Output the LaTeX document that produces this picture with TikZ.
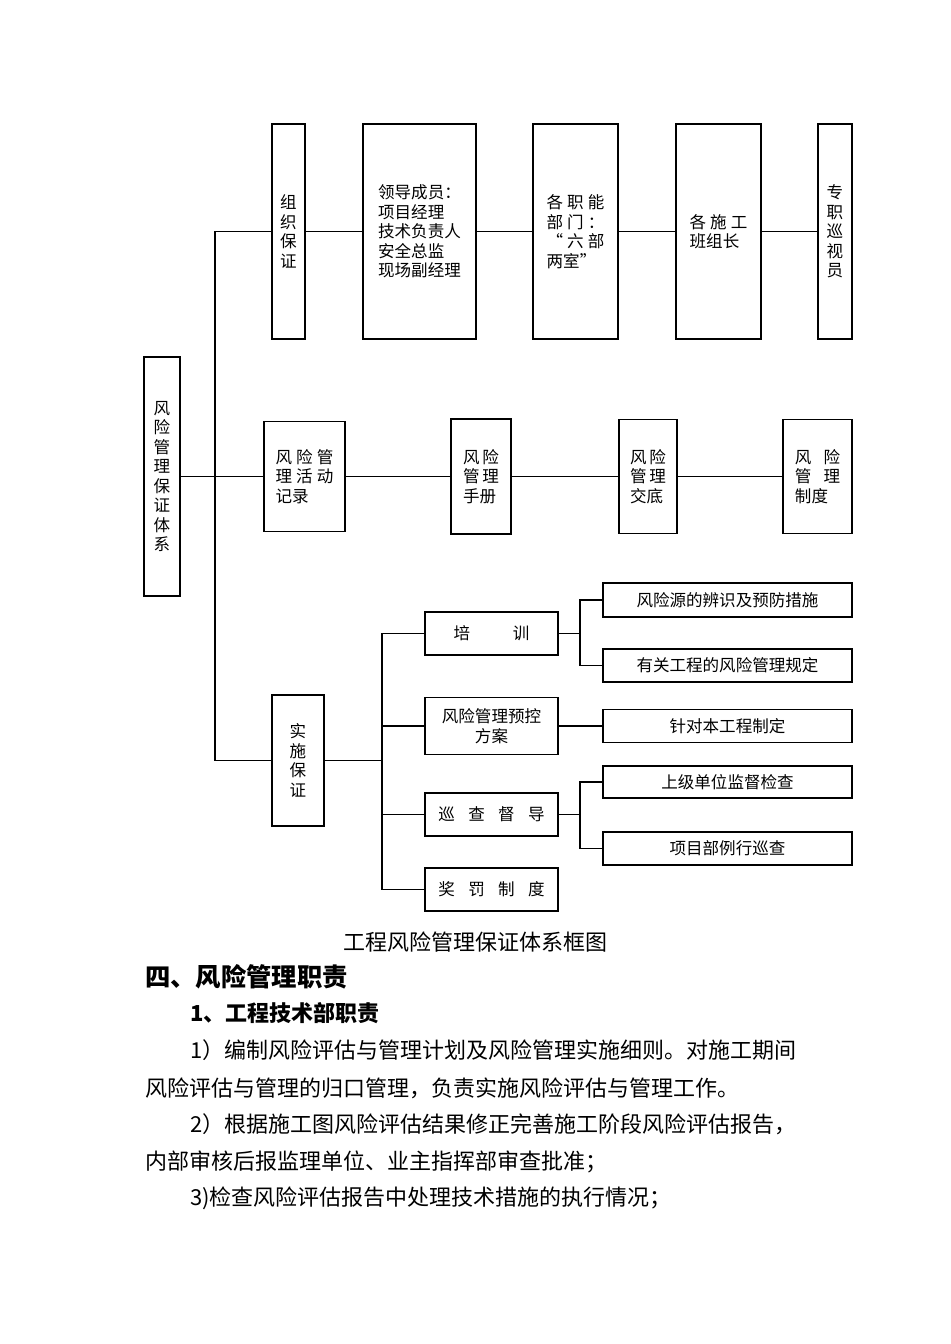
\documentclass[tikz,border=0pt]{standalone}
\usepackage{fontspec}
\setmainfont{Noto Sans CJK SC}
\usetikzlibrary{positioning}
\newcommand{\boxfont}{\fontsize{12.4}{14.6}\selectfont}
\newcommand{\parafont}{\fontsize{16.5}{20}\selectfont}
\newcommand{\headfont}{\fontsize{19}{22}\selectfont\bfseries}
\newcommand{\subheadfont}{\fontsize{16.5}{20}\selectfont\bfseries}

\begin{document}
\begin{tikzpicture}[
    x=0.75pt, y=-0.75pt,
    box/.style={draw, line width=0.8pt, inner sep=0pt, font=\boxfont, align=center},
    leftbox/.style={box, align=left},
    link/.style={line width=0.8pt},
    para/.style={anchor=base west, inner sep=0pt, font=\parafont},
    head/.style={anchor=base west, inner sep=0pt, font=\headfont},
    subhead/.style={anchor=base west, inner sep=0pt, font=\subheadfont}
]
\fill[white] (0,0) rectangle (950,1344);
\useasboundingbox (0,0) rectangle (950,1344);

% --- Nodo raíz ---
\node[box, minimum width=36*0.75pt, minimum height=239*0.75pt] (root) at (162,476.5)
    {风\\险\\管\\理\\保\\证\\体\\系};

% --- Fila superior ---
\node[box, minimum width=33*0.75pt, minimum height=215*0.75pt] (org) at (288.5,231.5) {组\\织\\保\\证};
\node[leftbox, minimum width=113*0.75pt, minimum height=215*0.75pt] (lead) at (419.5,231.5)
    {领导成员：\\项目经理\\技术负责人\\安全总监\\现场副经理};
\node[leftbox, minimum width=85*0.75pt, minimum height=215*0.75pt] (dept) at (575.5,231.5)
    {各\hspace{3pt}职\hspace{3pt}能\\部\hspace{3pt}门\hspace{3pt}：\\“\hspace{3pt}六\hspace{3pt}部\\两室”};
\node[leftbox, minimum width=85*0.75pt, minimum height=215*0.75pt] (team) at (718.5,231.5)
    {各\hspace{3pt}施\hspace{3pt}工\\班组长};
\node[box, minimum width=34*0.75pt, minimum height=215*0.75pt] (insp) at (835,231.5) {专\\职\\巡\\视\\员};

% --- Fila media ---
\node[leftbox, minimum width=81*0.75pt, minimum height=110*0.75pt] (rec) at (304.5,476.5)
    {风\hspace{3pt}险\hspace{3pt}管\\理\hspace{3pt}活\hspace{3pt}动\\记录};
\node[leftbox, minimum width=60*0.75pt, minimum height=115*0.75pt] (manual) at (481,476.5)
    {风\hspace{2pt}险\\管\hspace{2pt}理\\手册};
\node[leftbox, minimum width=58*0.75pt, minimum height=114*0.75pt] (brief) at (648,476.5)
    {风\hspace{2pt}险\\管\hspace{2pt}理\\交底};
\node[leftbox, minimum width=69*0.75pt, minimum height=114*0.75pt] (rules) at (817.5,476.5)
    {风\hspace{9pt}险\\管\hspace{9pt}理\\制度};

% --- Rama inferior ---
\node[box, minimum width=52*0.75pt, minimum height=131*0.75pt] (impl) at (298,760.5) {实\\施\\保\\证};
\node[box, minimum width=133*0.75pt, minimum height=43*0.75pt] (train) at (491.5,633.5) {培\hspace{32pt}训};
\node[box, minimum width=133*0.75pt, minimum height=57*0.75pt] (plan) at (491.5,726) {风险管理预控\\方案};
\node[box, minimum width=133*0.75pt, minimum height=43*0.75pt] (patrol) at (491.5,814.5)
    {巡\hspace{10pt}查\hspace{10pt}督\hspace{10pt}导};
\node[box, minimum width=133*0.75pt, minimum height=43*0.75pt] (reward) at (491.5,889.5)
    {奖\hspace{10pt}罚\hspace{10pt}制\hspace{10pt}度};

\node[box, minimum width=249*0.75pt, minimum height=34*0.75pt] (src) at (727.5,600) {风险源的辨识及预防措施};
\node[box, minimum width=249*0.75pt, minimum height=33*0.75pt] (rule) at (727.5,665.5) {有关工程的风险管理规定};
\node[box, minimum width=249*0.75pt, minimum height=33*0.75pt] (spec) at (727.5,726) {针对本工程制定};
\node[box, minimum width=249*0.75pt, minimum height=32*0.75pt] (upper) at (727.5,782) {上级单位监督检查};
\node[box, minimum width=249*0.75pt, minimum height=33*0.75pt] (proj) at (727.5,848.5) {项目部例行巡查};

% --- Conectores ---
\coordinate (jt) at (215,231.5);
\coordinate (jb) at (215,760.5);
\coordinate (kt) at (382,633.5);
\coordinate (kb) at (382,889.5);
\coordinate (b1) at (580,633.5);
\coordinate (b2) at (580,814.5);

\draw[link] (org.west) -- (jt) -- (jb) -- (impl.west);
\draw[link] (root.east) -- (rec.west);
\draw[link] (org) -- (lead) -- (dept) -- (team) -- (insp);
\draw[link] (rec) -- (manual) -- (brief) -- (rules);

\draw[link] (impl.east) -- (impl.east -| kt);
\draw[link] (train.west) -- (kt) -- (kb) -- (reward.west);
\draw[link] (plan.west) -- (plan.west -| kt);
\draw[link] (patrol.west) -- (patrol.west -| kt);

\draw[link] (train.east) -- (b1);
\draw[link] (src.west) -| (b1) |- (rule.west);
\draw[link] (plan) -- (spec);
\draw[link] (patrol.east) -- (b2);
\draw[link] (upper.west) -| (b2) |- (proj.west);

% --- Texto de la página ---
\node[anchor=center, inner sep=0pt, font=\parafont] (caption) at (475,942) {工程风险管理保证体系框图};
\node[head] (sec4) at (145,986) {四、风险管理职责};
\node[subhead] (sec41) at (190,1021) {1、工程技术部职责};
\node[para] (l1) at (190,1058) {1）编制风险评估与管理计划及风险管理实施细则。对施工期间};
\node[para] (l2) at (145,1096) {风险评估与管理的归口管理，负责实施风险评估与管理工作。};
\node[para] (l3) at (190,1132) {2）根据施工图风险评估结果修正完善施工阶段风险评估报告，};
\node[para] (l4) at (145,1169) {内部审核后报监理单位、业主指挥部审查批准；};
\node[para] (l5) at (190,1205) {3)检查风险评估报告中处理技术措施的执行情况；};

\end{tikzpicture}
\end{document}
